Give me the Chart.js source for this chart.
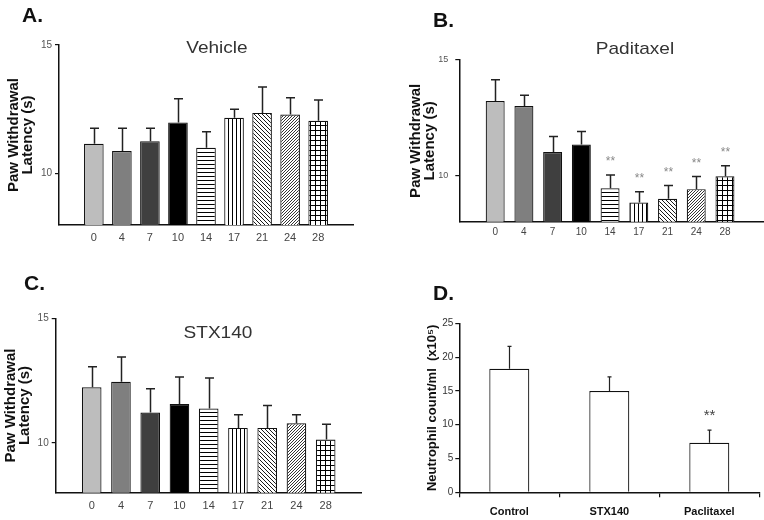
<!DOCTYPE html>
<html><head><meta charset="utf-8">
<script src="https://cdn.jsdelivr.net/npm/chart.js@4.4.1/dist/chart.umd.min.js"></script>
<style>
body{margin:0;background:#fff;}
#wrap{position:relative;width:764px;height:520px;overflow:hidden;font-family:'Liberation Sans',Arial,sans-serif;background:#fff;}
canvas{position:absolute;}
.lbl{position:absolute;font-weight:bold;font-size:21px;line-height:21px;color:#111;white-space:nowrap;}
.ttl{position:absolute;font-size:17px;line-height:17px;color:#333;text-align:center;width:200px;white-space:nowrap;transform:scaleX(1.12);}
</style></head>
<body><div id="wrap">
<canvas id="cA" width="382" height="260" style="left:0;top:0"></canvas>
<canvas id="cB" width="382" height="260" style="left:382px;top:0"></canvas>
<canvas id="cC" width="382" height="260" style="left:0;top:260px"></canvas>
<canvas id="cD" width="382" height="260" style="left:382px;top:260px"></canvas>
<div class="lbl" style="left:22px;top:4px">A.</div>
<div class="lbl" style="left:433px;top:9px">B.</div>
<div class="lbl" style="left:24px;top:272px">C.</div>
<div class="lbl" style="left:433px;top:282px">D.</div>
<div class="ttl" style="left:117px;top:39px">Vehicle</div>
<div class="ttl" style="left:535px;top:40px">Paditaxel</div>
<div class="ttl" style="left:118px;top:324px">STX140</div>
</div>
<script>
// ---- data ----
const days = ['0','4','7','10','14','17','21','24','28'];
const vehicleMean = [11.16, 10.88, 11.26, 11.99, 11.00, 12.17, 12.36, 12.30, 12.05];
const vehicleSem  = [0.60, 0.88, 0.50, 0.92, 0.63, 0.33, 1.01, 0.65, 0.81];
const paclitaxelMean = [13.22, 13.01, 11.02, 11.34, 9.45, 8.83, 8.99, 9.41, 9.97];
const paclitaxelSem  = [0.92, 0.46, 0.67, 0.56, 0.57, 0.47, 0.58, 0.55, 0.45];
const paclitaxelSig  = ['', '', '', '', '**', '**', '**', '**', '**'];
const stxMean = [12.23, 12.45, 11.22, 11.56, 11.38, 10.60, 10.60, 10.79, 10.14];
const stxSem  = [0.83, 1.00, 0.95, 1.08, 1.22, 0.53, 0.90, 0.34, 0.61];
const groupsD = ['Control', 'STX140', 'Paclitaxel'];
const neutrophilMean = [18.28, 14.98, 7.34];
const neutrophilSem  = [3.32, 2.08, 1.86];
const neutrophilSig  = ['', '', '**'];
const latencyTicks = [10, 15];
const neutrophilTicks = [0, 5, 10, 15, 20, 25];
const yTitleLatency = ['Paw Withdrawal', 'Latency (s)'];
const yTitleNeutro = 'Neutrophil count/ml  (x10\u2075)';

const FAM = "'Liberation Sans', Arial, sans-serif";
Chart.defaults.font.family = FAM;

// ---- fill patterns ----
function tile(s, draw) {
  const c = document.createElement('canvas'); c.width = s; c.height = s;
  const g = c.getContext('2d');
  g.fillStyle = '#fff'; g.fillRect(0, 0, s, s);
  g.fillStyle = '#000'; g.strokeStyle = '#000'; g.lineWidth = 1;
  draw(g, s);
  return g.createPattern(c, 'repeat');
}
const pH = tile(4, (g, s) => g.fillRect(0, 0, s, 1));
const pV = tile(4, (g, s) => g.fillRect(0, 0, 1, s));
const pBack = tile(4, (g, s) => { g.lineWidth = 0.9; g.beginPath(); g.moveTo(-1,-1); g.lineTo(s+1,s+1); g.moveTo(-1,s-1); g.lineTo(1,s+1); g.moveTo(s-1,-1); g.lineTo(s+1,1); g.stroke(); });
const pFwd = tile(3, (g, s) => { g.lineWidth = 0.8; g.beginPath(); g.moveTo(-1,s+1); g.lineTo(s+1,-1); g.moveTo(-1,1); g.lineTo(1,-1); g.moveTo(s-1,s+1); g.lineTo(s+1,s-1); g.stroke(); });
const pGrid = tile(5, (g, s) => { g.fillRect(0, 0, s, 1); g.fillRect(0, 0, 1, s); });
const fills = ['#bdbdbd', '#7f7f7f', '#3f3f3f', '#000000', pH, pV, pBack, pFwd, pGrid];

// ---- error bars + significance plugin ----
const errPlugin = {
  id: 'errbars',
  afterDatasetsDraw(chart, args, o) {
    const ctx = chart.ctx, meta = chart.getDatasetMeta(0), ys = chart.scales.y;
    ctx.save();
    ctx.strokeStyle = o.color; ctx.lineWidth = o.lw;
    meta.data.forEach((el, i) => {
      const v = meta.controller.getParsed(i).y;
      const top = ys.getPixelForValue(v + o.sem[i]);
      const x = Math.round(el.x) + 0.5;
      ctx.beginPath();
      ctx.moveTo(x, el.y); ctx.lineTo(x, top);
      ctx.moveTo(x - o.cap, top); ctx.lineTo(x + o.cap, top);
      ctx.stroke();
      if (o.sig && o.sig[i]) {
        ctx.fillStyle = o.sigColor; ctx.font = o.sigFont;
        ctx.textAlign = 'center'; ctx.textBaseline = 'middle';
        ctx.fillText(o.sig[i], x, top - o.sigGap);
      }
    });
    ctx.restore();
  }
};

function latencyChart(id, mean, sem, sig, g) {
  return new Chart(document.getElementById(id), {
    type: 'bar',
    data: { datasets: [{
      data: mean.map((v, i) => ({ x: i, y: v })),
      backgroundColor: fills, borderColor: '#111', borderWidth: 1.2,
      categoryPercentage: 1, barPercentage: g.bp
    }] },
    options: {
      responsive: false, animation: false, devicePixelRatio: 1,
      layout: { padding: { left: 0, top: g.top, right: g.right, bottom: 0 } },
      plugins: {
        legend: { display: false }, tooltip: { enabled: false },
        errbars: { sem: sem, sig: sig, cap: 4.5, lw: 1.5, color: '#222', sigFont: '12px ' + FAM, sigColor: '#888', sigGap: 13 }
      },
      scales: {
        x: {
          type: 'linear', min: g.xmin, max: g.xmax,
          grid: { display: false, drawTicks: false },
          border: { display: true, color: '#111', width: 1.5 },
          afterBuildTicks: s => { s.ticks = days.map((d, i) => ({ value: i })); },
          afterFit: s => { s.height = g.xh; },
          ticks: { callback: v => days[v], color: '#444', font: { size: g.xfs }, padding: g.xpad, maxRotation: 0, autoSkip: false }
        },
        y: {
          min: 8, max: 15,
          afterBuildTicks: s => { s.ticks = latencyTicks.map(v => ({ value: v })); },
          afterFit: s => { s.width = g.yw; },
          grid: { display: true, drawOnChartArea: false, drawTicks: true, tickLength: 4, color: '#111', lineWidth: 1.2 },
          border: { display: true, color: '#111', width: 1.5 },
          ticks: { color: '#555', font: { size: g.yfs }, padding: g.ypad },
          title: { display: true, text: yTitleLatency, color: '#111',
                   font: { size: 15, weight: 'bold', lineHeight: '14px' }, padding: { top: g.tpad, bottom: 0 } }
        }
      }
    },
    plugins: [errPlugin]
  });
}

latencyChart('cA', vehicleMean, vehicleSem, null,
  { top: 45, right: 29, yw: 59, xh: 35, xmin: -0.66, xmax: 8.66, bp: 0.7, xfs: 11, xpad: 6, yfs: 10, ypad: 3, tpad: 7 });
latencyChart('cB', paclitaxelMean, paclitaxelSem, paclitaxelSig,
  { top: 60, right: 0, yw: 77.3, xh: 38.3, xmin: -0.66, xmax: 8.77, bp: 0.66, xfs: 10, xpad: 5, yfs: 9, ypad: 7, tpad: 27 });
latencyChart('cC', stxMean, stxSem, null,
  { top: 58.3, right: 20.3, yw: 55.7, xh: 27.3, xmin: -0.65, xmax: 8.65, bp: 0.67, xfs: 11, xpad: 6.5, yfs: 10, ypad: 3, tpad: 4 });

new Chart(document.getElementById('cD'), {
  type: 'bar',
  data: { labels: groupsD, datasets: [{
    data: neutrophilMean, backgroundColor: '#fff', borderColor: '#111', borderWidth: 1.2,
    categoryPercentage: 1, barPercentage: 0.4
  }] },
  options: {
    responsive: false, animation: false, devicePixelRatio: 1,
    layout: { padding: { left: 0, top: 63.3, right: 4.7, bottom: 0 } },
    plugins: {
      legend: { display: false }, tooltip: { enabled: false },
      errbars: { sem: neutrophilSem, sig: neutrophilSig, cap: 2, lw: 1.2, color: '#222', sigFont: '15px ' + FAM, sigColor: '#444', sigGap: 14 }
    },
    scales: {
      x: {
        grid: { display: true, drawOnChartArea: false, offset: true, drawTicks: true, tickLength: 5, color: '#111', lineWidth: 1.2 },
        border: { display: true, color: '#111', width: 1.5 },
        afterFit: s => { s.height = 27.7; },
        ticks: { color: '#111', font: { size: 11, weight: 'bold' }, padding: 8, maxRotation: 0 }
      },
      y: {
        min: 0, max: 25,
        afterBuildTicks: s => { s.ticks = neutrophilTicks.map(v => ({ value: v })); },
        afterFit: s => { s.width = 77.3; },
        grid: { display: true, drawOnChartArea: false, drawTicks: true, tickLength: 4, color: '#111', lineWidth: 1.2 },
        border: { display: true, color: '#111', width: 1.5 },
        ticks: { color: '#333', font: { size: 10, family: "'Liberation Sans Narrow', 'Liberation Sans', Arial, sans-serif" }, padding: 2 },
        title: { display: true, text: yTitleNeutro, color: '#111',
                 font: { size: 13, weight: 'bold', lineHeight: '15px' }, padding: { top: 42.5, bottom: 0 } }
      }
    }
  },
  plugins: [errPlugin]
});
</script>
</body></html>
